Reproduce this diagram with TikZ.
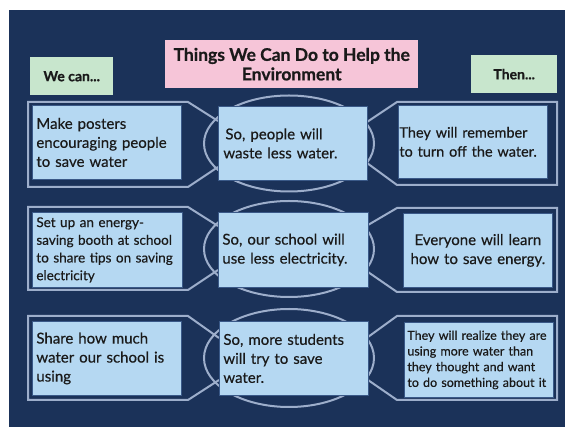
\documentclass[tikz,border=0pt]{standalone}
\usepackage{fontspec}
\setmainfont{Lato}[UprightFeatures={FakeBold=0.4}, BoldFeatures={FakeBold=0.7}]
\definecolor{navy}{HTML}{1B3259}
\definecolor{boxblue}{HTML}{B5D8F2}
\definecolor{boxedge}{HTML}{3A5988}
\definecolor{framec}{HTML}{9DAECB}
\definecolor{pinkc}{HTML}{F6C5D8}
\definecolor{greenc}{HTML}{C8E6CD}
\definecolor{txt}{HTML}{1A1A1A}
\tikzset{
  box/.style={fill=boxblue, draw=boxedge, line width=0.8pt, inner xsep=4pt, inner ysep=0pt, anchor=north west, text=txt, align=left},
  framel/.style={draw=framec, line width=2pt, line join=miter},
  ell/.style={draw=framec, line width=2pt},
  hdr/.style={fill=greenc, anchor=north west, inner sep=0pt, text=txt, font=\bfseries\fontsize{14}{16}\selectfont, align=center},
  rowtxt/.style={font=\fontsize{15}{19}\selectfont}
}
\begin{document}
\begin{tikzpicture}[x=1pt,y=-1pt]
\useasboundingbox (0,0) rectangle (566,427);
\fill[white] (0,0) rectangle (566,427);
\fill[navy] (9,10) rectangle (565,427);

% header boxes
\node[fill=pinkc, anchor=north west, inner sep=0pt, minimum width=253pt, minimum height=48pt, text=txt, align=center, font=\bfseries\fontsize{17.5}{19.5}\selectfont] (title) at (165,40) {Things We Can Do to Help the\\Environment};
\node[hdr, minimum width=83pt, minimum height=38pt] (wecan) at (30,57) {We can...};
\node[hdr, minimum width=86pt, minimum height=38pt] (then) at (471,55) {Then...};

% frames
\draw[framel] (218,121) -- (188,102) -- (28,102) -- (28,187) -- (188,187) -- (218,167);
\draw[framel] (367,122) -- (397,102) -- (557,102) -- (557,185) -- (397,185) -- (367,163);
\draw[framel] (218,226) -- (188,207) -- (28,207) -- (28,290) -- (188,290) -- (218,270);
\draw[framel] (368,225) -- (397,208) -- (557,208) -- (557,292) -- (397,292) -- (368,272);
\draw[framel] (219,338) -- (188,316) -- (28,316) -- (28,400) -- (188,400) -- (219,380);
\draw[framel] (368,337) -- (397,316) -- (557,316) -- (557,400) -- (397,400) -- (368,380);

% ellipses
\draw[ell] (289,143.5) ellipse [x radius=85, y radius=48];
\draw[ell] (289,249) ellipse [x radius=85, y radius=48];
\draw[ell] (289,358) ellipse [x radius=85, y radius=49];

% row 1
\node[box, rowtxt, text width=141pt, minimum height=74pt] (l1) at (32,105) {Make posters\\encouraging people\\to save water};
\node[box, rowtxt, minimum height=74pt, inner xsep=5pt, text width=139pt] (c1) at (218,106) {\hspace*{2pt}So, people will\\waste less water.};
\node[box, rowtxt, text width=147pt, minimum height=73pt, inner xsep=1pt, font=\fontsize{14.5}{19}\selectfont] (r1) at (398,105) {They will remember\\to turn off the water.};

% row 2
\node[box, text width=142pt, minimum height=75pt, font=\fontsize{13.5}{17.7}\selectfont] (l2) at (32,212) {Set up an energy-\\saving booth at school\\to share tips on saving\\electricity};
\node[box, rowtxt, text width=142pt, minimum height=75pt] (c2) at (218,212) {So, our school will\\use less electricity.};
\node[box, rowtxt, text width=141pt, minimum height=74pt, align=center] (r2) at (403,213) {Everyone will learn\\how to save energy.};

% row 3
\node[box, rowtxt, text width=141pt, minimum height=74pt] (l3) at (32,321) {Share how much\\water our school is\\using};
\node[box, rowtxt, text width=141pt, minimum height=74pt] (c3) at (219,321) {So, more students\\will try to save\\water.};
\node[box, text width=143pt, minimum height=75pt, inner xsep=3pt, font=\fontsize{12.5}{15.7}\selectfont] (r3) at (404,322) {They will realize they are\\using more water than\\they thought and want\\to do something about it};
\end{tikzpicture}
\end{document}
